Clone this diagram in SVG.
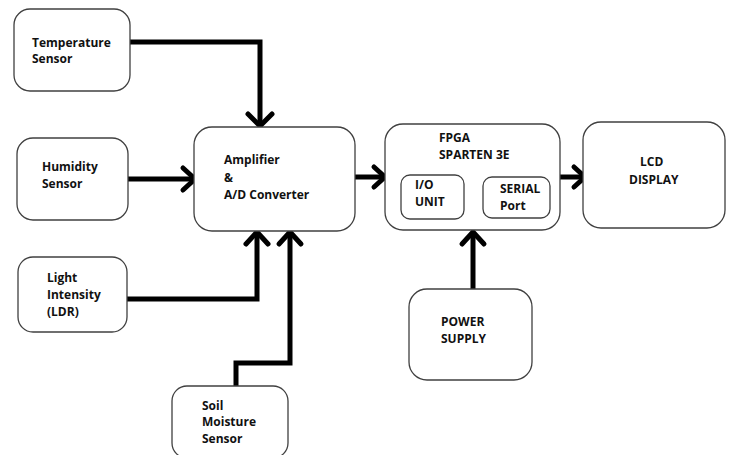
<svg xmlns="http://www.w3.org/2000/svg" width="730" height="455" viewBox="0 0 730 455">
<style>
.box{fill:#fff;stroke:#404040;stroke-width:1.3}
.t{font-family:"Open Sans","Liberation Sans",sans-serif;font-weight:700;font-size:12px;fill:#111}
.w{fill:none;stroke:#000;stroke-width:5;stroke-linejoin:miter}
.h{fill:none;stroke:#000;stroke-width:5;stroke-linecap:round;stroke-linejoin:round}
</style>
<rect width="730" height="455" fill="#fff"/>
<g id="connectors">
<path class="w" d="M130 42H260V124"/>
<path class="h" d="M248 114L260 126L272 114"/>
<path class="w" d="M128 179H193"/>
<path class="h" d="M183 168L195 179L183 190"/>
<path class="w" d="M127 299H257V234"/>
<path class="h" d="M246 244L257 232L268 244"/>
<path class="w" d="M236 386V363H290V234"/>
<path class="h" d="M279 244L290 232L301 244"/>
<path class="w" d="M355 177H383"/>
<path class="h" d="M374 167L385 177L374 187"/>
<path class="w" d="M560 177H582"/>
<path class="h" d="M574 167L585 177L574 187"/>
<path class="w" d="M473 289V235"/>
<path class="h" d="M462 244L473 232L484 244"/>
</g>
<g id="temperature"><rect class="box" x="14" y="9" width="116" height="82" rx="16"/>
<text class="t" x="32" y="47">Temperature</text><text class="t" x="32" y="63">Sensor</text></g>
<g id="humidity"><rect class="box" x="17" y="138" width="111" height="82" rx="16"/>
<text class="t" x="42" y="171">Humidity</text><text class="t" x="42" y="188">Sensor</text></g>
<g id="light"><rect class="box" x="18" y="257" width="109" height="75" rx="15"/>
<text class="t" x="47" y="282">Light</text><text class="t" x="47" y="299">Intensity</text><text class="t" x="47" y="316">(LDR)</text></g>
<g id="soil"><rect class="box" x="172" y="386" width="116" height="72" rx="15"/>
<text class="t" x="202" y="410">Soil</text><text class="t" x="202" y="426">Moisture</text><text class="t" x="202" y="443">Sensor</text></g>
<g id="amplifier"><rect class="box" x="194" y="127" width="161" height="104" rx="18"/>
<text class="t" x="224" y="164">Amplifier</text><text class="t" x="224" y="182">&amp;</text><text class="t" x="224" y="199">A/D Converter</text></g>
<g id="fpga"><rect class="box" x="385" y="124" width="175" height="106" rx="18"/>
<text class="t" x="439" y="142">FPGA</text><text class="t" x="439" y="159">SPARTEN 3E</text></g>
<g id="io"><rect class="box" x="401" y="175" width="63" height="44" rx="9"/>
<text class="t" x="415" y="189">I/O</text><text class="t" x="415" y="206">UNIT</text></g>
<g id="serial"><rect class="box" x="483" y="177" width="67" height="41" rx="9"/>
<text class="t" x="500" y="193">SERIAL</text><text class="t" x="500" y="210">Port</text></g>
<g id="lcd"><rect class="box" x="583" y="122" width="142" height="106" rx="18"/>
<text class="t" x="640" y="166">LCD</text><text class="t" x="629" y="184">DISPLAY</text></g>
<g id="power"><rect class="box" x="409" y="289" width="123" height="91" rx="18"/>
<text class="t" x="441" y="326">POWER</text><text class="t" x="441" y="343">SUPPLY</text></g>
</svg>
